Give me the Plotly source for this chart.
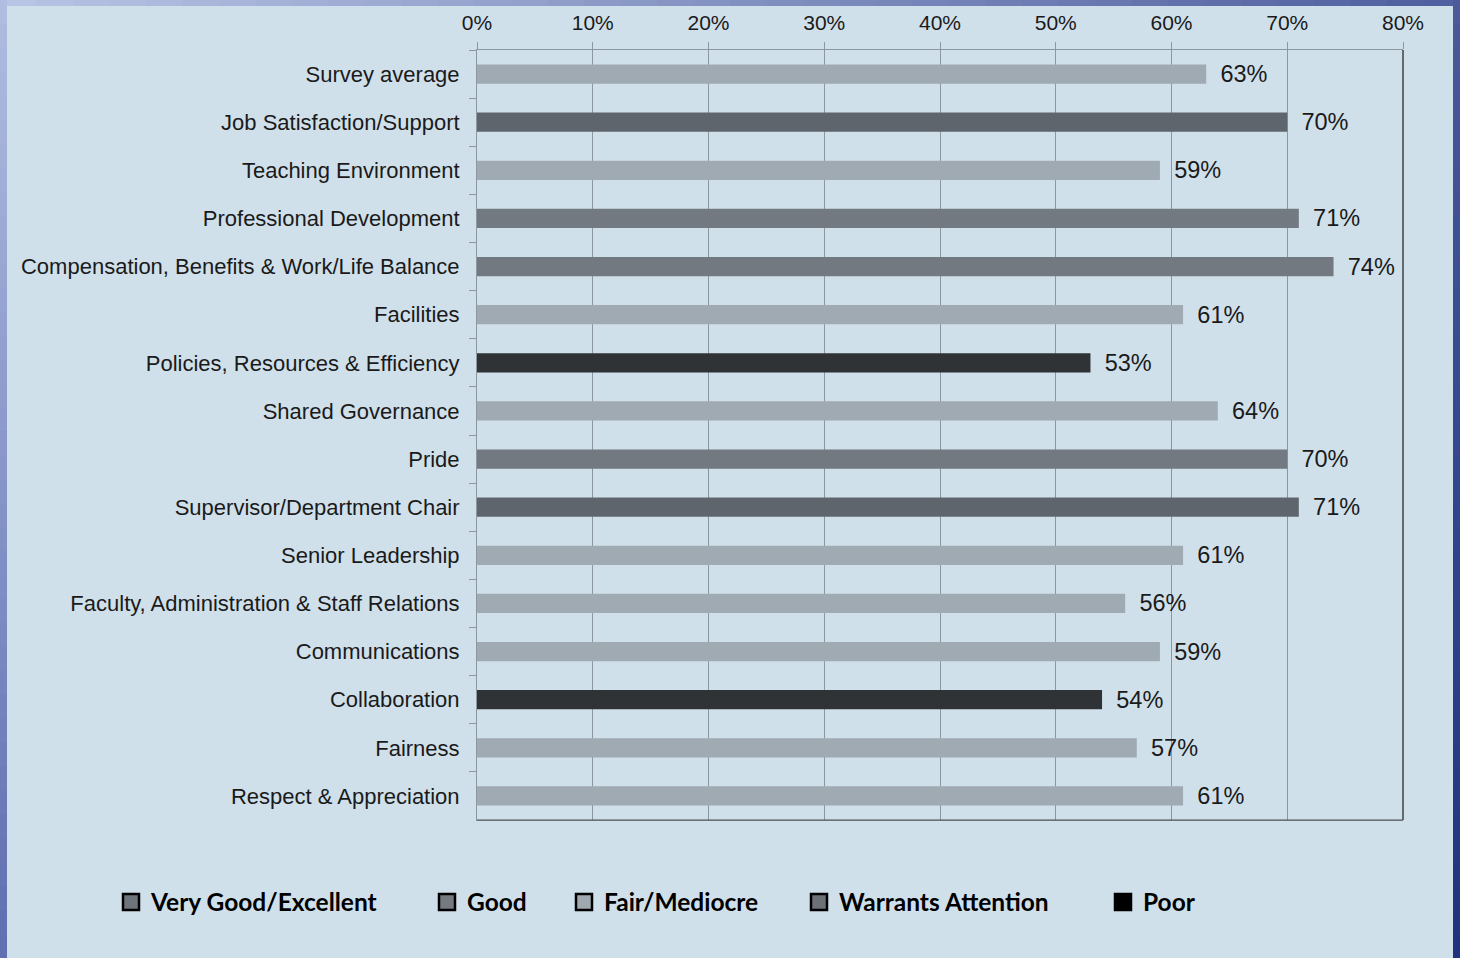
import plotly.graph_objects as go

categories = [
    "Survey average", "Job Satisfaction/Support", "Teaching Environment",
    "Professional Development", "Compensation, Benefits & Work/Life Balance",
    "Facilities", "Policies, Resources & Efficiency", "Shared Governance",
    "Pride", "Supervisor/Department Chair", "Senior Leadership",
    "Faculty, Administration & Staff Relations", "Communications",
    "Collaboration", "Fairness", "Respect & Appreciation",
]
values = [63, 70, 59, 71, 74, 61, 53, 64, 70, 71, 61, 56, 59, 54, 57, 61]
shade = ["light", "dark", "light", "mid", "mid", "light", "poor", "light",
         "mid", "dark", "light", "light", "light", "poor", "light", "light"]

legend_names = ["Very Good/Excellent", "Good", "Fair/Mediocre", "Warrants Attention", "Poor"]
legend_colors = ["#6e747b", "#747a80", "#a0a9b0", "#6b7177", "#000000"]
legend_left_px = [111, 427, 564, 799, 1103]

shade_colors = {"light": "#a0aab2", "dark": "#5f656c", "mid": "#727980", "poor": "#2f3336"}

W, H = 1460, 958
L, R, T, B = 477, 1403, 50, 820
BG = "#d0e0ea"


def px_x(p):
    return (p - L) / (R - L)


def px_y(p):
    return (B - p) / (B - T)


fig = go.Figure()
fig.add_trace(go.Bar(
    x=values, y=categories, orientation="h",
    marker=dict(color=[shade_colors[s] for s in shade], line=dict(width=0)),
    width=0.4,
    text=[f"\u00a0\u2009{v}%" for v in values],
    textposition="outside", cliponaxis=False, constraintext="none",
    textfont=dict(family="Liberation Sans, Arial", size=23.5, color="#1a1a1a"),
    showlegend=False, hoverinfo="skip",
))

layout_legends = {}
for i, (name, col, lx) in enumerate(zip(legend_names, legend_colors, legend_left_px)):
    key = "legend" if i == 0 else f"legend{i+1}"
    fig.add_trace(go.Scatter(
        x=[None], y=[None], mode="markers", name=name, legend=key,
        marker=dict(symbol="square", size=16, color=col, line=dict(color="#000000", width=2.5)),
    ))
    layout_legends[key] = dict(
        x=px_x(lx), y=px_y(902), xanchor="left", yanchor="middle",
        orientation="h", bgcolor="rgba(0,0,0,0)", borderwidth=0,
        font=dict(family="Lato, Open Sans, sans-serif", size=24.5, color="#000000", weight="bold"),
    )

# decorative gradient frame
shapes = []
n = 40
c0 = (0xb8, 0xc4, 0xe4)
c1 = (0x50, 0x60, 0xa0)
for i in range(n):
    t = i / (n - 1)
    c = tuple(int(c0[k] + (c1[k] - c0[k]) * t) for k in range(3))
    x0 = W * i / n
    x1 = W * (i + 1) / n + 1
    shapes.append(dict(type="rect", xref="paper", yref="paper", layer="below",
                       x0=px_x(x0), x1=px_x(x1), y0=px_y(6), y1=px_y(0),
                       fillcolor="rgb(%d,%d,%d)" % c, line=dict(width=0)))
l0 = (0xb0, 0xbc, 0xe0)
l1 = (0x60, 0x70, 0xb0)
r0 = (0x4a, 0x5a, 0x9a)
r1 = (0x22, 0x32, 0x80)
for i in range(n):
    t = i / (n - 1)
    cl = tuple(int(l0[k] + (l1[k] - l0[k]) * t) for k in range(3))
    cr = tuple(int(r0[k] + (r1[k] - r0[k]) * t) for k in range(3))
    y0 = H * i / n
    y1 = H * (i + 1) / n + 1
    shapes.append(dict(type="rect", xref="paper", yref="paper", layer="below",
                       x0=px_x(0), x1=px_x(7), y0=px_y(y1), y1=px_y(y0),
                       fillcolor="rgb(%d,%d,%d)" % cl, line=dict(width=0)))
    shapes.append(dict(type="rect", xref="paper", yref="paper", layer="below",
                       x0=px_x(1453), x1=px_x(W), y0=px_y(y1), y1=px_y(y0),
                       fillcolor="rgb(%d,%d,%d)" % cr, line=dict(width=0)))
# darker right & bottom plot border
shapes.append(dict(type="line", xref="paper", yref="paper", x0=1, x1=1, y0=0, y1=1,
                   line=dict(color="#1a1a1a", width=1.2)))
shapes.append(dict(type="line", xref="paper", yref="paper", x0=0, x1=1, y0=0, y1=0,
                   line=dict(color="#4a4f55", width=1.2)))

fig.update_layout(
    width=W, height=H,
    margin=dict(l=L, r=W - R, t=T, b=H - B, pad=0),
    paper_bgcolor=BG, plot_bgcolor=BG,
    bargap=0.6,
    shapes=shapes,
    font=dict(family="Liberation Sans, Arial", size=22, color="#1a1a1a"),
    xaxis=dict(
        range=[0, 80], dtick=10, ticksuffix="%", side="top",
        showgrid=True, gridcolor="#8c979f", gridwidth=1,
        showline=True, linecolor="#8c979f", linewidth=1, mirror=True,
        ticks="outside", ticklen=7, tickcolor="#8c979f",
        ticklabelstandoff=4,
        tickfont=dict(family="Liberation Sans, Arial", size=21, color="#1a1a1a"),
        zeroline=False, fixedrange=True,
    ),
    yaxis=dict(
        categoryorder="array", categoryarray=categories, autorange="reversed",
        showline=True, linecolor="#8c979f", linewidth=1,
        ticks="outside", tickson="boundaries", ticklen=7, tickcolor="#8c979f",
        ticklabelstandoff=12,
        tickfont=dict(family="Liberation Sans, Arial", size=22, color="#1a1a1a"),
        showgrid=False, fixedrange=True,
    ),
    **layout_legends,
)

fig.write_html(
    "out.html",
    config={"displayModeBar": False},
    post_script="document.body.style.margin='0px';document.body.style.overflow='hidden';",
)
